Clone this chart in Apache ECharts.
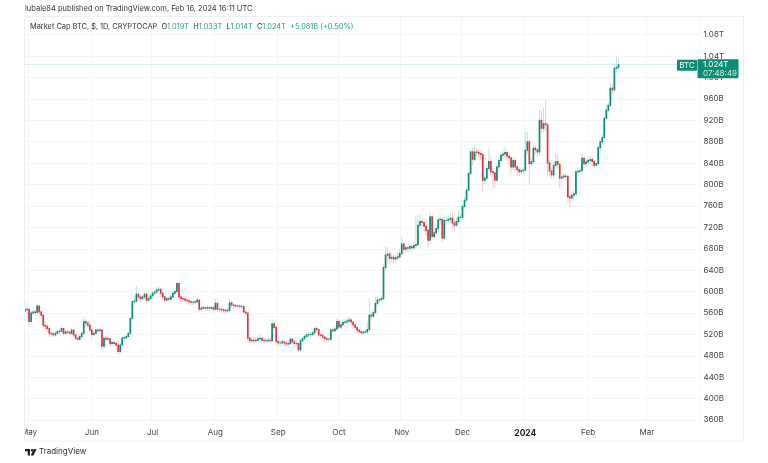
<!DOCTYPE html>
<html>
<head>
<meta charset="utf-8">
<script src="https://cdn.jsdelivr.net/npm/echarts@6/dist/echarts.min.js"></script>
<style>
  html, body { margin: 0; padding: 0; background: #fff; }
  #main { width: 768px; height: 463px; }
</style>
</head>
<body>
<div id="main"></div>
<script>
// market cap in billions, one row per day starting 2023-04-29
var startDate = '2023-04-29'
var firstOpen = 563
var closes = [
  566,567,544,560,562,561,573,562,556,537,
  535,531,522,521,519,522,525,526,531,522,
  525,524,522,528,519,513,511,516,522,544,
  541,537,528,520,522,528,527,528,498,513,
  511,512,503,505,503,500,488,500,513,514,
  516,522,550,581,582,595,590,587,590,595,
  584,587,592,597,599,603,604,597,590,584,
  587,586,590,597,600,615,590,587,586,584,
  583,581,580,580,581,584,567,569,570,569,
  570,569,570,567,578,567,567,566,565,564,
  565,579,575,574,573,573,572,572,562,560,
  513,508,509,508,509,512,513,509,508,508,
  509,508,540,533,507,504,504,506,504,502,
  503,511,506,503,503,491,508,512,516,519,
  520,520,523,531,529,519,518,515,512,511,
  511,528,527,530,544,534,538,542,543,545,
  547,543,538,533,528,525,523,524,525,529,
  556,554,561,578,584,585,587,645,668,670,
  662,664,661,663,665,671,689,679,682,681,
  684,682,686,688,724,731,729,722,714,696,
  740,703,710,718,734,735,700,733,733,735,
  737,728,724,731,739,739,759,771,790,821,
  861,847,861,860,858,856,808,812,830,843,
  824,822,808,833,845,855,857,860,853,850,
  833,845,833,828,824,826,827,864,880,839,
  843,868,865,861,920,905,914,912,840,825,
  818,836,843,838,812,814,816,815,777,775,
  780,783,824,825,826,849,839,842,845,847,
  843,836,839,869,880,888,924,939,948,980,
  977,1017,1019,1024
]
var highs = [
  581,572,568,564,566,567,578,574,565,558,
  545,539,533,526,525,526,529,530,536,532,
  529,528,527,532,529,520,516,519,526,553,
  549,544,539,531,526,533,532,533,530,518,
  516,516,513,509,508,506,502,504,516,518,
  520,525,552,584,592,610,598,594,594,600,
  598,592,596,601,604,608,610,607,599,592,
  591,592,595,601,605,618,616,592,590,589,
  587,585,584,584,585,588,586,573,574,573,
  574,573,574,572,586,580,570,570,569,568,
  570,586,582,578,577,577,576,576,574,562,
  553,517,515,515,514,516,520,516,513,513,
  514,513,548,544,536,510,510,511,510,507,
  507,515,513,509,508,505,512,516,520,524,
  526,525,528,536,535,530,523,520,517,516,
  515,531,532,535,550,548,543,548,549,552,
  553,550,546,539,534,529,527,528,529,545,
  587,561,567,590,592,590,592,652,684,683,
  676,672,668,668,672,680,703,692,687,686,
  690,688,693,741,743,743,737,730,725,718,
  749,743,718,724,738,744,738,742,740,742,
  745,749,734,738,752,746,764,778,795,825,
  866,868,874,868,866,864,858,818,835,867,
  852,830,826,838,850,860,864,871,864,858,
  852,852,849,836,832,832,833,899,899,884,
  850,873,873,868,939,939,944,958,915,846,
  830,841,858,855,840,820,821,820,818,785,
  786,790,828,832,832,858,853,850,851,853,
  852,846,843,873,885,894,928,950,954,990,
  988,1027,1038,1033
]
var lows = [
  558,560,534,540,556,556,558,558,548,532,
  527,525,516,516,514,516,520,521,523,518,
  519,520,518,520,515,509,507,508,514,520,
  535,532,524,515,517,520,522,522,492,496,
  506,507,498,500,498,495,482,484,498,509,
  511,514,518,546,575,578,584,581,583,586,
  578,580,585,590,593,596,596,590,584,577,
  581,581,583,587,593,596,585,581,581,579,
  578,576,575,575,576,578,561,563,565,564,
  565,564,565,561,563,561,561,561,560,559,
  560,562,570,569,568,568,567,567,558,554,
  505,502,504,501,503,505,505,503,503,503,
  503,503,505,527,500,499,497,500,498,497,
  495,500,500,497,497,486,488,505,509,513,
  514,514,517,520,523,514,512,510,506,506,
  505,508,521,523,527,529,530,535,537,538,
  540,538,533,528,522,520,518,519,520,520,
  525,547,550,558,574,579,580,583,640,652,
  652,654,653,655,658,660,668,672,673,674,
  676,675,678,680,685,718,718,712,705,684,
  690,696,698,706,712,726,693,696,725,727,
  728,720,716,720,726,731,736,755,766,787,
  818,837,843,852,850,846,787,800,806,825,
  818,793,793,805,827,845,848,850,843,836,
  818,826,824,815,816,818,819,822,856,802,
  832,838,856,853,855,895,896,900,815,814,
  810,812,830,830,793,804,808,807,765,758,
  768,772,778,815,817,820,830,833,837,838,
  835,829,832,835,862,875,884,920,935,945,
  967,972,1011,1014
]
var monthTicks = ['2023-05-01','2023-06-01','2023-07-01','2023-08-01','2023-09-01','2023-10-01','2023-11-01','2023-12-01','2024-01-01','2024-02-01','2024-03-01']
var monthLabels = ['May','Jun','Jul','Aug','Sep','Oct','Nov','Dec','2024','Feb','Mar']
var dayCount = 334

var categories = []
var d0 = new Date(startDate + 'T00:00:00Z').getTime()
for (var i = 0; i < dayCount; i++) {
  categories.push(new Date(d0 + i * 86400000).toISOString().slice(0, 10))
}

var candleData = closes.map(function (c, i) {
  return [i, i === 0 ? firstOpen : closes[i - 1], c, lows[i], highs[i]]
})

var font = 'Inter'
var upColor = '#0b8c74', downColor = '#e5323f'
var upWick = '#bfe3db', downWick = '#f8c6ca'
var lastClose = closes[closes.length - 1]
var isTick = function (idx, name) { return monthTicks.indexOf(name) >= 0 }

function renderCandle(params, api) {
  var idx = api.value(0), o = api.value(1), c = api.value(2)
  var top = api.coord([idx, Math.max(o, c)])
  var bottom = api.coord([idx, Math.min(o, c)])
  var high = api.coord([idx, api.value(4)])
  var low = api.coord([idx, api.value(3)])
  var up = c >= o
  var w = 1.7
  return {
    type: 'group',
    children: [
      {
        type: 'line',
        shape: { x1: high[0], y1: high[1], x2: low[0], y2: low[1] },
        style: { stroke: up ? upWick : downWick, lineWidth: 1 }
      },
      {
        type: 'rect',
        shape: { x: top[0] - w / 2, y: top[1] - 0.5, width: w, height: bottom[1] - top[1] + 1 },
        style: { fill: up ? upColor : downColor }
      }
    ]
  }
}

var myChart = echarts.init(document.querySelector('#main'))
var gridLine = '#f3f5f7'

var option = {
  animation: false,
  backgroundColor: '#fff',
  title: [
    {
      text: 'lubale84 published on TradingView.com, Feb 16, 2024 16:11 UTC',
      left: 25, top: 5, padding: 0,
      textStyle: { fontFamily: font, fontSize: 7.5, fontWeight: 'normal', color: '#333' }
    },
    {
      text: 'Market Cap BTC, $, 1D, CRYPTOCAP  {k|O}{g|1.019T}  {k|H}{g|1.033T}  {k|L}{g|1.014T}  {k|C}{g|1.024T}  {g|+5.081B (+0.50%)}',
      left: 30, top: 23, padding: 0,
      textStyle: {
        fontFamily: font, fontSize: 7.4, fontWeight: 'normal', color: '#333',
        rich: {
          k: { fontFamily: font, fontSize: 7.4, color: '#333' },
          g: { fontFamily: font, fontSize: 7.4, color: '#1f9e86' }
        }
      }
    },
    {
      text: 'TradingView',
      left: 39, top: 448, padding: 0,
      textStyle: { fontFamily: font, fontSize: 8, fontWeight: 'normal', color: '#333' }
    }
  ],
  grid: { left: 24, right: 67.5, top: 16, height: 404 },
  xAxis: {
    type: 'category',
    data: categories,
    boundaryGap: true,
    axisLine: { show: false },
    axisTick: { show: false },
    axisLabel: {
      interval: isTick,
      margin: 9,
      hideOverlap: false,
      fontFamily: font,
      fontSize: 8,
      color: '#444',
      formatter: function (name) {
        var label = monthLabels[monthTicks.indexOf(name)]
        return label === '2024' ? '{b|2024}' : label
      },
      rich: { b: { fontFamily: font, fontSize: 8.5, fontWeight: 'bold', color: '#222' } }
    },
    splitLine: { show: true, interval: isTick, lineStyle: { color: gridLine, width: 1 } }
  },
  yAxis: {
    type: 'value',
    position: 'right',
    min: 360,
    max: 1115,
    interval: 40,
    scale: true,
    axisLine: { show: false },
    axisTick: { show: false },
    axisLabel: {
      margin: 3,
      showMaxLabel: false,
      fontFamily: font,
      fontSize: 8,
      color: '#444',
      formatter: function (v) {
        return v >= 1000 ? (v / 1000).toFixed(2) + 'T' : v + 'B'
      }
    },
    splitLine: { lineStyle: { color: gridLine, width: 1 } }
  },
  series: [
    {
      name: 'Market Cap BTC',
      type: 'custom',
      data: candleData,
      renderItem: renderCandle,
      encode: { x: 0, y: [1, 2, 3, 4] },
      silent: true,
      markLine: {
        silent: true,
        symbol: 'none',
        label: { show: false },
        lineStyle: { color: '#d6f0ea', width: 1, type: 'solid' },
        z: 1,
        data: [{ yAxis: lastClose }]
      }
    }
  ]
}
myChart.setOption(option)

// frame, price tags, clipped May label and the logo
var py = myChart.convertToPixel({ yAxisIndex: 0 }, lastClose)
var tagColor = '#0b8c74'
myChart.setOption({
  graphic: [
    { type: 'rect', shape: { x: 0, y: 424, width: 24.5, height: 16 }, style: { fill: '#fff' }, z: 90 },
    { type: 'rect', shape: { x: 24.5, y: 16.5, width: 719, height: 424.5 }, style: { fill: 'transparent', stroke: '#eef0f3', lineWidth: 1 }, z: 91 },
    { type: 'rect', shape: { x: 677, y: py - 5, width: 20, height: 11, r: 1 }, style: { fill: tagColor }, z: 92 },
    { type: 'text', x: 687, y: py + 0.5, style: { text: 'BTC', fill: '#fff', font: '8px ' + font, align: 'center', verticalAlign: 'middle' }, z: 93 },
    { type: 'rect', shape: { x: 697.5, y: py - 5.5, width: 41, height: 19, r: 1 }, style: { fill: tagColor }, z: 92 },
    { type: 'text', x: 703, y: py, style: { text: '1.024T', fill: '#fff', font: '8px ' + font, align: 'left', verticalAlign: 'middle' }, z: 93 },
    { type: 'text', x: 703, y: py + 9, style: { text: '07:48:49', fill: '#cfeee7', font: '8px ' + font, align: 'left', verticalAlign: 'middle' }, z: 93 },
    // TradingView mark
    { type: 'polygon', shape: { points: [[25, 449], [30, 449], [30, 455.5], [27.7, 455.5], [27.7, 451.3], [25, 451.3]] }, style: { fill: '#222' }, z: 92 },
    { type: 'circle', shape: { cx: 32, cy: 450.2, r: 1.2 }, style: { fill: '#222' }, z: 92 },
    { type: 'polygon', shape: { points: [[33.7, 449], [36.5, 449], [33.5, 455.5], [30.7, 455.5]] }, style: { fill: '#222' }, z: 92 }
  ]
})
</script>
</body>
</html>
